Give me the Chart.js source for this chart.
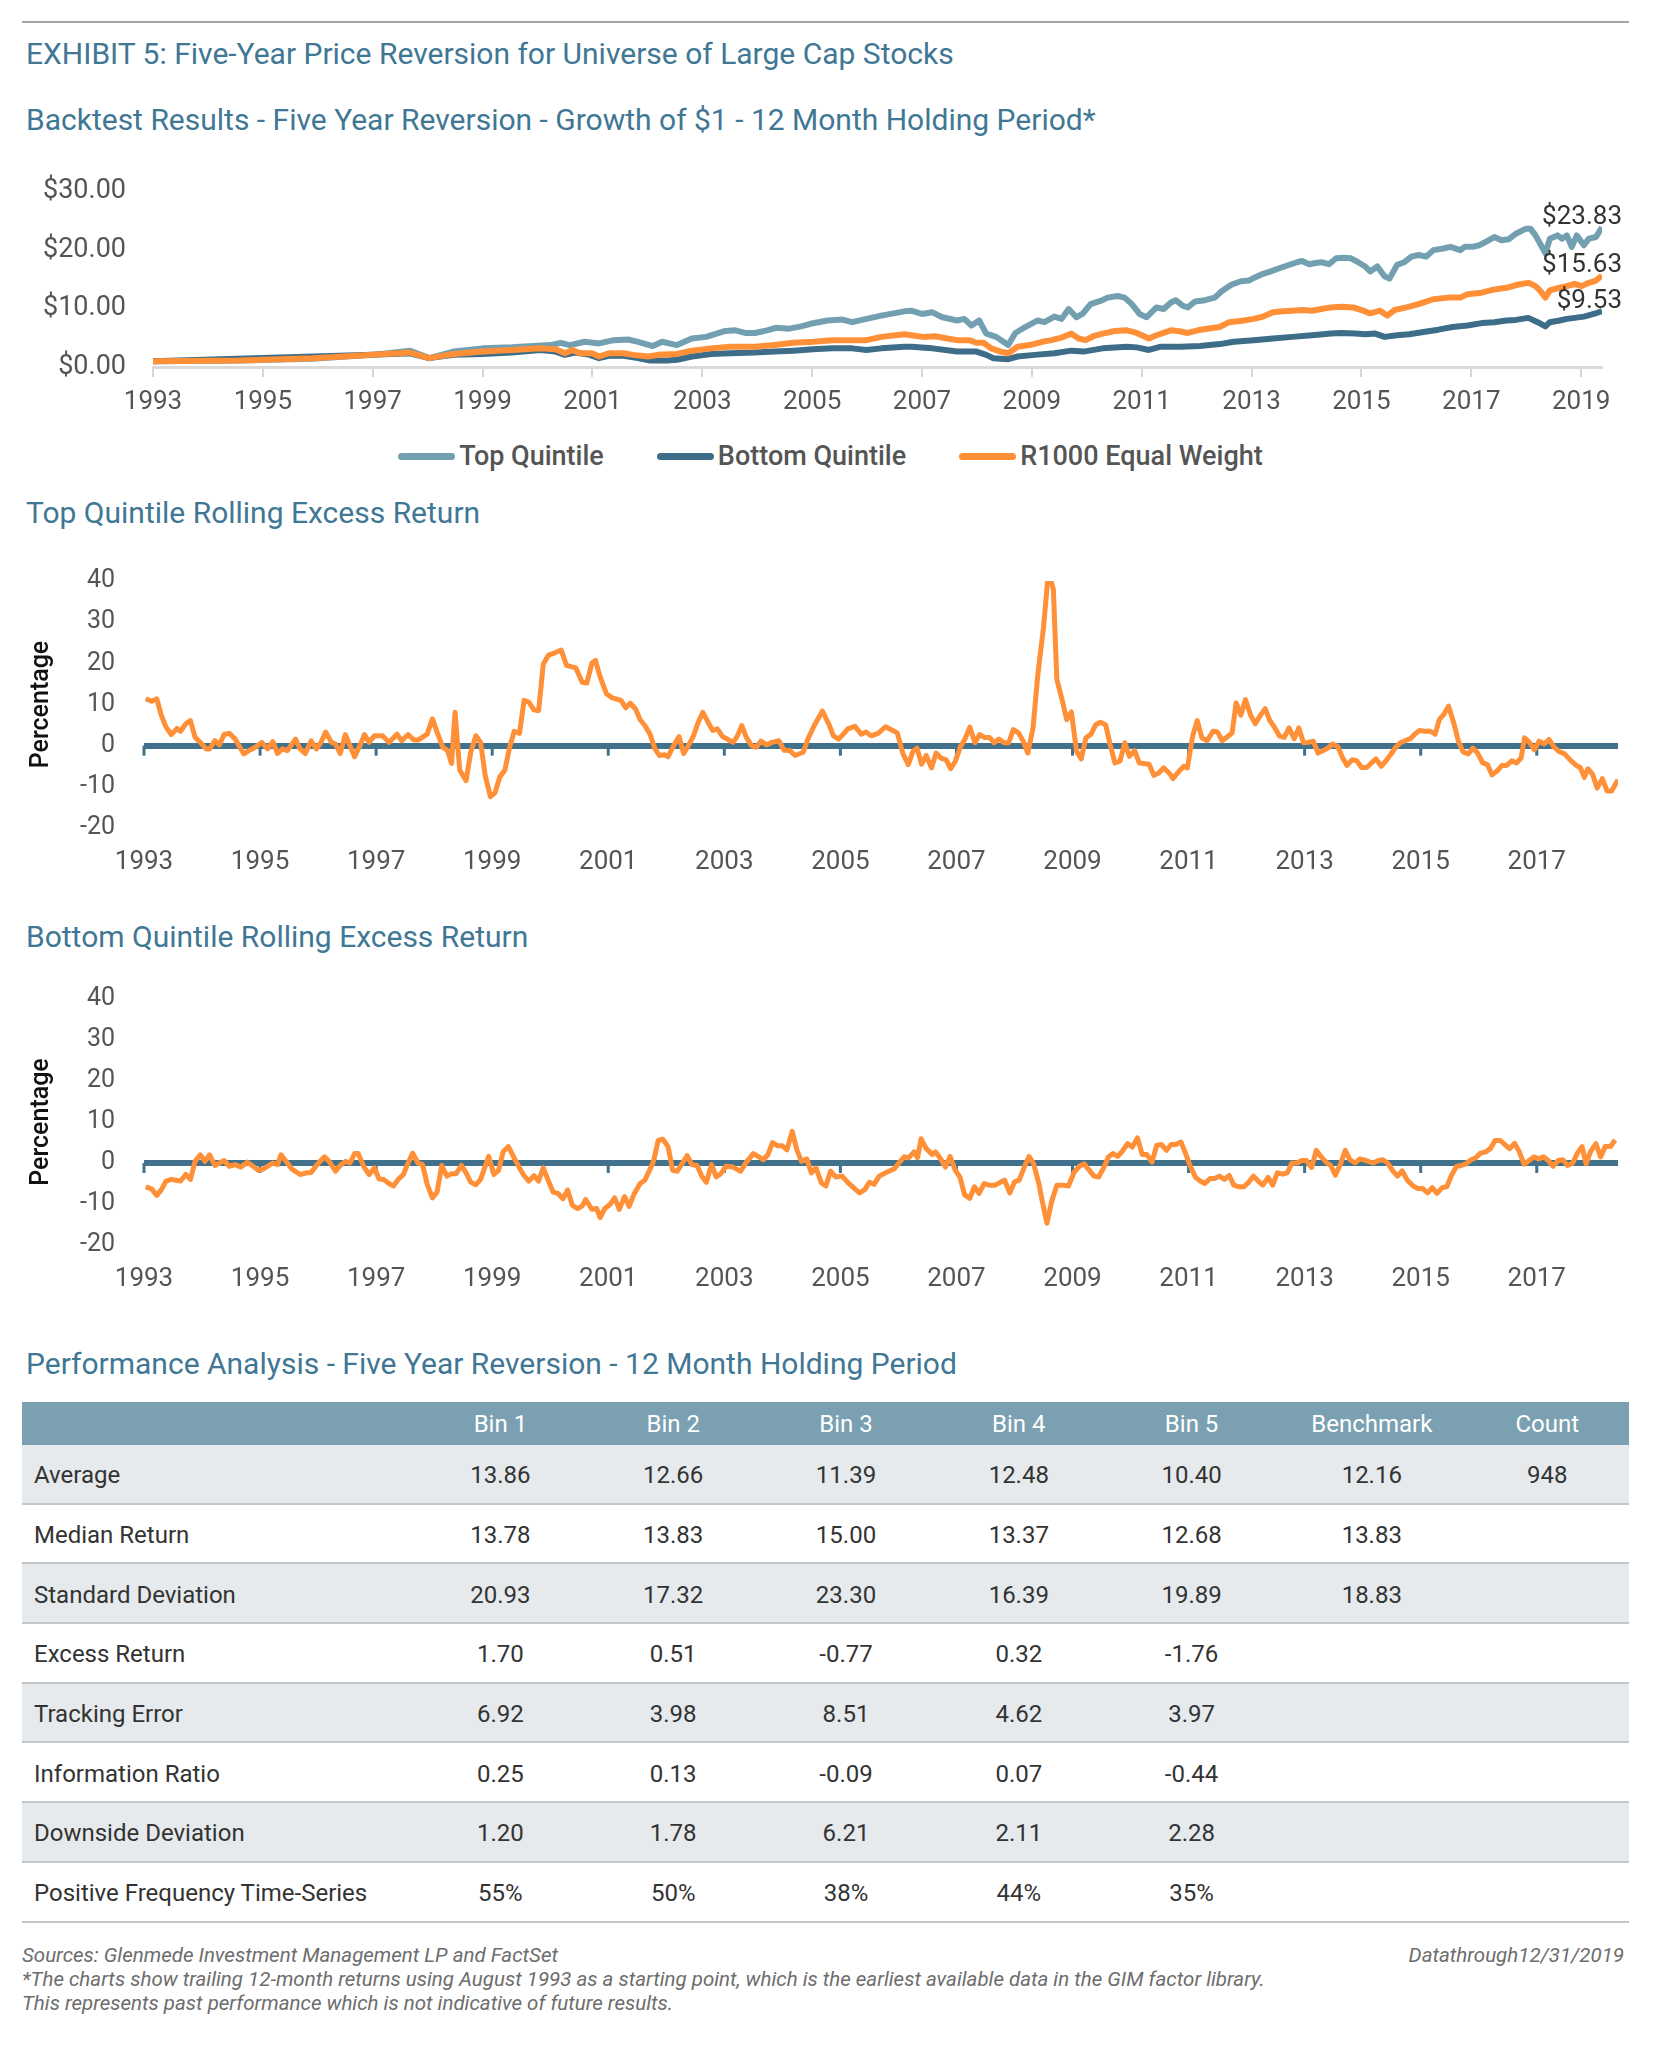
<!DOCTYPE html>
<html lang="en">
<head>
<meta charset="UTF-8">
<title>Five-Year Price Reversion</title>
<script src="https://cdn.jsdelivr.net/npm/chart.js"></script>
<style>
  body {margin:0;background:#fff;font-family:Roboto,'Open Sans',sans-serif;}
  .page {position:relative;width:1661px;height:2048px;overflow:hidden;}
  .rule {position:absolute;left:22px;top:21px;width:1607px;height:2px;background:#a3a7aa;}
  .ttl {position:absolute;left:26px;font-size:30px;line-height:36px;color:#3f7794;white-space:nowrap;}
  canvas {position:absolute;left:0;}
  .legend {position:absolute;left:0;top:438px;width:1661px;height:36px;display:flex;justify-content:center;align-items:center;gap:53px;}
  .legend .it {display:flex;align-items:center;gap:4px;font-size:27px;color:#555;font-weight:500;}
  .legend .sw {display:inline-block;width:57px;height:7px;border-radius:4px;}
  table.perf {position:absolute;left:22px;top:1402px;width:1607px;border-collapse:collapse;table-layout:fixed;font-size:24px;color:#333;}
  table.perf th {background:#7aa0b1;color:#fff;font-weight:400;height:43px;padding:0;text-align:center;}
  table.perf td {height:54.7px;padding:3px 0 0 0;text-align:center;border-bottom:2px solid #c3c7ca;}
  table.perf td.lbl {text-align:left;padding-left:12px;}
  table.perf tr.sh td {background:#e6eaec;}
  .foot {position:absolute;left:22px;top:1943px;font-size:20.5px;line-height:24px;font-style:italic;color:#6d6d6d;}
  .foot-r {position:absolute;right:37px;top:1943px;font-size:20.5px;line-height:24px;font-style:italic;color:#6d6d6d;}
</style>
</head>
<body>
<div class="page">
  <div class="rule"></div>
  <div class="ttl" style="top:36px">EXHIBIT 5: Five-Year Price Reversion for Universe of Large Cap Stocks</div>
  <div class="ttl" style="top:102px">Backtest Results - Five Year Reversion - Growth of $1 - 12 Month Holding Period*</div>
  <canvas id="growth" width="1661" height="281" style="top:148px"></canvas>
  <div class="legend" id="legend1"></div>
  <div class="ttl" style="top:495px">Top Quintile Rolling Excess Return</div>
  <canvas id="topEx" width="1661" height="363" style="top:537px"></canvas>
  <div class="ttl" style="top:919px">Bottom Quintile Rolling Excess Return</div>
  <canvas id="botEx" width="1661" height="363" style="top:955px"></canvas>
  <div class="ttl" style="top:1346px">Performance Analysis - Five Year Reversion - 12 Month Holding Period</div>
  <table class="perf" id="perf"></table>
  <div class="foot">Sources: Glenmede Investment Management LP and FactSet<br>*The charts show trailing 12-month returns using August 1993 as a starting point, which is the earliest available data in the GIM factor library.<br>This represents past performance which is not indicative of future results.</div>
  <div class="foot-r">Datathrough12/31/2019</div>
</div>

<script>
// growth of $1, [year, value]
const topGrowth = [[1993.00,1.00],[1994.58,1.12],[1995.90,1.40],[1997.00,2.07],[1997.67,2.79],[1998.03,1.51],[1998.47,2.63],[1999.00,3.18],[1999.53,3.35],[2000.24,3.74],[2000.42,4.13],[2000.59,3.74],[2000.86,4.30],[2001.12,4.02],[2001.39,4.58],[2001.65,4.69],[2001.83,4.30],[2002.10,3.58],[2002.27,4.30],[2002.54,3.74],[2002.81,4.86],[2003.07,5.14],[2003.42,6.15],[2003.60,6.26],[2003.78,5.81],[2003.96,5.81],[2004.18,6.26],[2004.35,6.70],[2004.58,6.54],[2004.80,6.93],[2004.97,7.37],[2005.28,7.93],[2005.55,8.10],[2005.73,7.65],[2005.99,8.21],[2006.26,8.77],[2006.68,9.50],
  [2006.80,9.61],[2007.00,9.05],[2007.19,9.33],[2007.37,8.49],[2007.64,7.93],[2007.77,8.21],[2007.90,7.09],[2008.04,7.93],[2008.17,5.70],[2008.35,5.14],[2008.57,3.74],[2008.70,5.81],[2008.88,6.82],[2009.10,7.93],[2009.23,7.65],[2009.41,8.60],[2009.54,8.21],[2009.67,9.89],[2009.81,8.49],[2009.92,9.05],[2010.07,10.73],[2010.25,11.28],[2010.38,11.84],[2010.56,12.12],[2010.69,11.84],[2010.82,10.73],[2010.96,9.05],[2011.09,8.49],[2011.27,10.17],[2011.40,9.89],[2011.53,11.01],[2011.62,11.40],[2011.75,10.45],[2011.84,10.17],[2011.97,11.17],[2012.15,11.40],[2012.33,11.84],[2012.46,12.96],[2012.64,14.08],[2012.81,14.64],[2012.95,14.75],[2013.04,15.20],[2013.17,15.75],[2013.35,16.31],[2013.48,16.76],[2013.65,17.32],[2013.83,17.88],[2013.92,18.10],[2014.05,17.54],[2014.14,17.71],[2014.27,17.88],[2014.41,17.54],[2014.54,18.55],[2014.67,18.66],[2014.81,18.55],[2014.94,17.88],[2015.07,17.15],[2015.16,16.31],[2015.29,17.15],[2015.42,15.47],[2015.51,15.08],[2015.65,17.43],[2015.78,17.88],[2015.91,18.83],[2016.04,19.11],[2016.18,18.83],[2016.31,19.94],[2016.49,20.22],[2016.62,20.50],[2016.80,19.94],[2016.88,20.50],[2017.02,20.50],[2017.15,20.78],[2017.28,21.45],[2017.42,22.18],[2017.55,21.62],[2017.68,21.79],[2017.81,22.74],[2017.99,23.58],[2018.08,23.58],[2018.17,22.46],[2018.27,20.78],[2018.35,19.39],[2018.43,21.90],[2018.57,22.46],[2018.65,21.90],[2018.74,22.46],[2018.83,20.50],[2018.92,22.46],[2019.05,20.78],[2019.14,21.90],[2019.27,22.18],[2019.38,23.83]];

const botGrowth = [[1993.00,1.00],[1997.00,2.07],[1997.67,2.35],[1998.03,1.51],[1998.47,2.07],[1999.00,2.23],[1999.53,2.46],[2000.06,2.91],[2000.33,2.63],[2000.50,2.07],[2000.68,2.46],[2000.95,2.07],[2001.12,1.51],[2001.30,1.90],[2001.57,1.90],[2001.83,1.51],[2002.05,1.12],[2002.36,1.12],[2002.54,1.23],[2002.81,1.79],[2003.16,2.23],[2003.51,2.35],[2003.96,2.46],[2004.31,2.63],[2004.66,2.79],[2005.02,3.02],[2005.37,3.18],[2005.73,3.18],[2005.99,2.91],[2006.26,3.18],[2006.68,3.46],
  [2006.80,3.46],[2007.19,3.18],[2007.64,2.63],[2007.99,2.63],[2008.17,2.07],[2008.30,1.51],[2008.57,1.34],[2008.74,1.79],[2009.05,2.07],[2009.41,2.35],[2009.72,2.79],[2009.94,2.63],[2010.29,3.18],[2010.73,3.46],[2010.91,3.35],[2011.13,2.91],[2011.35,3.46],[2011.71,3.46],[2012.06,3.58],[2012.42,3.91],[2012.68,4.30],[2013.04,4.58],[2013.39,4.86],[2013.74,5.14],[2014.10,5.42],[2014.45,5.70],[2014.63,5.81],[2014.89,5.70],[2015.07,5.59],[2015.25,5.70],[2015.42,5.14],[2015.65,5.42],[2015.87,5.59],[2016.13,5.98],[2016.40,6.37],[2016.66,6.82],[2016.93,7.09],[2017.19,7.49],[2017.42,7.65],[2017.64,7.93],[2017.81,8.04],[2018.04,8.38],[2018.21,7.65],[2018.35,6.93],[2018.43,7.65],[2018.61,7.93],[2018.74,8.21],[2018.88,8.38],[2019.05,8.60],[2019.23,9.05],[2019.38,9.53]];

const eqGrowth = [[1993.00,1.00],[1994.58,1.12],[1995.90,1.51],[1997.00,2.07],[1997.67,2.46],[1998.03,1.51],[1998.47,2.23],[1999.00,2.63],[1999.53,2.91],[2000.06,3.18],[2000.33,3.02],[2000.50,2.35],[2000.64,2.91],[2000.77,2.35],[2000.99,2.35],[2001.12,1.79],[2001.30,2.35],[2001.57,2.35],[2001.74,2.07],[2002.01,1.79],[2002.19,2.07],[2002.54,2.23],[2002.81,2.79],[2003.16,3.18],[2003.51,3.46],[2003.96,3.46],[2004.31,3.74],[2004.66,4.13],[2005.02,4.30],[2005.37,4.58],[2005.73,4.58],[2005.99,4.58],[2006.26,5.14],[2006.68,5.59],
  [2006.80,5.42],[2007.02,5.14],[2007.24,5.25],[2007.46,4.86],[2007.64,4.58],[2007.86,4.58],[2007.99,4.13],[2008.12,4.13],[2008.26,3.18],[2008.43,2.63],[2008.57,2.35],[2008.74,3.46],[2008.96,3.74],[2009.19,4.30],[2009.36,4.58],[2009.54,5.03],[2009.72,5.70],[2009.85,4.86],[2009.98,4.58],[2010.12,5.25],[2010.29,5.70],[2010.51,6.15],[2010.73,6.26],[2010.91,5.81],[2011.13,4.86],[2011.27,5.42],[2011.53,6.26],[2011.66,6.15],[2011.84,5.81],[2012.02,6.26],[2012.19,6.54],[2012.42,6.82],[2012.59,7.65],[2012.86,7.93],[2013.04,8.21],[2013.21,8.60],[2013.39,9.33],[2013.57,9.50],[2013.74,9.61],[2013.92,9.72],[2014.10,9.61],[2014.27,9.89],[2014.45,10.17],[2014.63,10.28],[2014.85,10.17],[2015.03,9.61],[2015.16,9.16],[2015.34,9.61],[2015.47,8.77],[2015.60,9.72],[2015.82,10.17],[2016.04,10.73],[2016.31,11.56],[2016.58,11.84],[2016.80,11.84],[2016.93,12.40],[2017.19,12.68],[2017.42,13.24],[2017.64,13.52],[2017.86,14.08],[2018.04,14.36],[2018.17,13.80],[2018.26,12.96],[2018.35,11.84],[2018.43,13.07],[2018.61,13.52],[2018.74,13.80],[2018.88,14.19],[2019.01,13.80],[2019.14,14.36],[2019.27,14.75],[2019.38,15.63]];

// rolling 12m excess return (%), [year, value]
const topExcess = [[1993.03,11.4],[1993.13,10.8],[1993.22,11.4],[1993.30,7.3],[1993.38,4.5],[1993.47,2.7],[1993.57,4.2],[1993.63,3.5],[1993.72,5.3],[1993.80,6.1],[1993.88,2.0],[1993.97,0.8],[1994.07,-0.8],[1994.13,-0.8],[1994.22,1.2],[1994.30,0.2],[1994.38,2.7],[1994.47,3.0],[1994.57,1.6],[1994.72,-2.0],[1994.82,-1.1],[1994.92,-0.4],[1995.03,0.8],[1995.13,-0.8],[1995.22,1.0],[1995.30,-1.9],[1995.38,-0.8],[1995.47,-1.2],[1995.61,1.6],[1995.69,-0.8],[1995.78,-1.9],[1995.88,1.2],[1995.97,-0.8],[1996.05,0.8],[1996.13,3.3],[1996.23,0.8],[1996.30,0.4],[1996.38,-1.9],[1996.47,2.7],[1996.55,0.0],[1996.63,-2.7],[1996.72,0.0],[1996.80,2.7],[1996.88,0.8],[1996.97,2.4],[1997.11,2.4],[1997.22,0.8],[1997.36,2.8],[1997.44,1.2],[1997.55,2.7],[1997.65,1.4],[1997.73,1.4],[1997.88,2.8],[1997.97,6.5],[1998.05,3.3],[1998.15,-0.4],[1998.23,-1.2],[1998.30,-4.3],[1998.36,8.1],[1998.44,-5.9],[1998.55,-8.5],[1998.63,-1.6],[1998.72,2.4],[1998.80,0.8],[1998.88,-7.3],[1998.97,-12.4],[1999.05,-11.4],[1999.13,-7.6],[1999.22,-5.9],[1999.30,-0.4],[1999.38,3.5],[1999.47,3.0],[1999.55,11.0],[1999.63,10.6],[1999.72,8.7],[1999.80,8.5],[1999.88,19.8],[1999.97,22.0],[2000.07,22.5],[2000.19,23.2],[2000.28,19.5],[2000.44,18.9],[2000.55,15.4],[2000.63,15.2],[2000.72,20.1],[2000.78,20.7],[2000.86,16.7],[2000.97,12.6],[2001.07,11.6],[2001.22,11.0],[2001.30,9.2],[2001.38,10.3],[2001.47,8.9],[2001.55,6.3],[2001.63,4.9],[2001.72,2.8],[2001.80,-0.6],[2001.88,-2.4],[2001.97,-2.2],[2002.03,-2.7],[2002.11,-0.4],[2002.22,2.2],[2002.30,-1.9],[2002.38,0.0],[2002.47,2.4],[2002.55,5.7],[2002.63,8.1],[2002.72,5.7],[2002.80,3.7],[2002.88,4.1],[2002.97,2.2],[2003.05,1.6],[2003.15,0.8],[2003.22,2.2],[2003.30,4.9],[2003.38,2.0],[2003.47,0.0],[2003.55,-0.4],[2003.63,1.1],[2003.73,0.2],[2003.82,0.8],[2003.94,1.2],[2004.03,-1.1],[2004.13,-1.2],[2004.22,-2.4],[2004.36,-1.6],[2004.44,1.6],[2004.55,4.9],[2004.69,8.4],[2004.80,5.3],[2004.88,2.4],[2004.97,1.6],[2005.05,2.8],[2005.13,4.1],[2005.25,4.7],[2005.36,2.8],[2005.44,3.3],[2005.53,2.4],[2005.65,3.0],[2005.78,4.6],
  [2005.98,3.1],[2006.08,-2.0],[2006.17,-4.6],[2006.25,-1.4],[2006.32,-0.6],[2006.40,-4.5],[2006.48,-2.4],[2006.57,-5.4],[2006.65,-1.8],[2006.73,-3.0],[2006.82,-3.4],[2006.90,-5.6],[2006.98,-3.8],[2007.07,-0.2],[2007.15,1.7],[2007.23,4.5],[2007.32,0.7],[2007.40,2.7],[2007.48,2.0],[2007.57,2.0],[2007.65,0.7],[2007.73,1.6],[2007.82,0.7],[2007.90,0.7],[2007.98,3.9],[2008.07,3.1],[2008.15,1.1],[2008.23,-1.8],[2008.32,4.3],[2008.40,16.9],[2008.50,28.7],[2008.57,39.9],[2008.63,39.9],[2008.67,38.0],[2008.73,16.1],[2008.82,11.2],[2008.90,6.3],[2008.98,8.2],[2009.07,-1.4],[2009.15,-3.2],[2009.23,1.9],[2009.32,2.8],[2009.40,5.1],[2009.48,5.7],[2009.57,5.1],[2009.65,0.2],[2009.73,-4.2],[2009.82,-3.7],[2009.90,0.7],[2009.98,-2.6],[2010.07,-1.2],[2010.15,-4.2],[2010.32,-4.5],[2010.40,-7.2],[2010.48,-6.7],[2010.57,-5.4],[2010.67,-6.7],[2010.73,-8.0],[2010.83,-6.3],[2010.92,-5.0],[2010.98,-5.4],[2011.07,2.3],[2011.15,6.1],[2011.23,1.9],[2011.32,1.2],[2011.42,3.5],[2011.50,3.3],[2011.58,1.2],[2011.68,2.3],[2011.75,3.1],[2011.82,10.4],[2011.90,7.4],[2011.98,11.2],[2012.07,7.4],[2012.15,5.3],[2012.23,7.2],[2012.32,9.0],[2012.40,6.1],[2012.48,4.5],[2012.57,2.3],[2012.65,2.0],[2012.73,4.3],[2012.82,1.7],[2012.90,4.3],[2012.98,0.7],[2013.07,0.8],[2013.15,1.1],[2013.23,-1.8],[2013.32,-1.2],[2013.40,-0.6],[2013.48,0.4],[2013.57,-0.2],[2013.65,-2.8],[2013.73,-4.8],[2013.82,-3.4],[2013.90,-3.7],[2013.98,-5.3],[2014.07,-5.3],[2014.15,-4.2],[2014.23,-3.2],[2014.32,-5.0],[2014.40,-3.7],[2014.48,-2.2],[2014.57,-0.4],[2014.65,0.7],[2014.73,1.2],[2014.82,1.7],[2014.90,2.8],[2014.98,3.7],[2015.07,3.5],[2015.17,3.5],[2015.25,2.8],[2015.32,6.3],[2015.40,7.6],[2015.48,9.6],[2015.57,5.5],[2015.65,1.1],[2015.73,-1.5],[2015.82,-2.0],[2015.90,-0.6],[2015.98,-1.8],[2016.07,-4.2],[2016.15,-4.6],[2016.23,-7.1],[2016.32,-6.1],[2016.40,-4.8],[2016.48,-4.8],[2016.57,-3.7],[2016.65,-4.2],[2016.73,-3.0],[2016.79,1.9],[2016.88,0.7],[2016.96,-1.0],[2017.04,1.1],[2017.13,0.4],[2017.21,1.5],[2017.29,-0.2],[2017.38,-1.4],[2017.48,-2.0],[2017.57,-3.4],[2017.68,-4.8],[2017.75,-5.3],[2017.82,-7.7],[2017.88,-5.6],[2017.96,-6.9],[2018.04,-10.3],[2018.13,-8.0],[2018.21,-11.0],[2018.29,-11.0],[2018.40,-8.3]];

const botExcess = [[1993.03,-5.8],[1993.13,-6.3],[1993.22,-7.9],[1993.30,-6.5],[1993.38,-4.4],[1993.47,-4.0],[1993.55,-4.2],[1993.63,-4.4],[1993.72,-2.8],[1993.80,-4.0],[1993.88,0.4],[1993.97,2.0],[1994.05,0.4],[1994.13,2.0],[1994.22,-0.6],[1994.30,0.0],[1994.38,0.6],[1994.47,-0.8],[1994.57,-0.4],[1994.67,-1.0],[1994.78,0.2],[1994.88,-0.8],[1994.97,-1.8],[1995.05,-1.5],[1995.13,-0.8],[1995.22,0.0],[1995.30,-0.4],[1995.36,2.0],[1995.47,0.0],[1995.55,-1.5],[1995.69,-2.8],[1995.80,-2.4],[1995.88,-2.3],[1995.98,-0.4],[1996.11,1.5],[1996.19,0.4],[1996.30,-2.0],[1996.38,-0.6],[1996.47,0.4],[1996.55,0.0],[1996.63,2.3],[1996.69,2.3],[1996.80,-1.2],[1996.88,-2.8],[1996.97,-1.2],[1997.05,-3.9],[1997.13,-4.0],[1997.22,-5.0],[1997.30,-5.6],[1997.38,-4.0],[1997.47,-2.8],[1997.55,0.0],[1997.63,2.4],[1997.72,0.0],[1997.80,-0.4],[1997.88,-5.2],[1997.97,-8.5],[1998.05,-7.1],[1998.13,-0.6],[1998.22,-3.2],[1998.30,-2.6],[1998.38,-2.6],[1998.47,-0.6],[1998.55,-2.4],[1998.63,-4.7],[1998.72,-5.3],[1998.80,-4.0],[1998.94,1.6],[1999.03,-2.8],[1999.11,-1.8],[1999.19,2.8],[1999.28,4.0],[1999.38,1.2],[1999.47,-1.2],[1999.55,-3.1],[1999.63,-4.4],[1999.72,-3.1],[1999.80,-4.4],[1999.88,-1.2],[1999.97,-4.4],[2000.05,-7.1],[2000.13,-7.4],[2000.22,-8.7],[2000.30,-6.6],[2000.38,-10.3],[2000.47,-11.1],[2000.55,-10.5],[2000.61,-8.9],[2000.72,-11.3],[2000.80,-11.1],[2000.86,-13.3],[2000.94,-11.1],[2001.03,-10.1],[2001.11,-8.5],[2001.19,-11.3],[2001.28,-8.2],[2001.36,-10.6],[2001.44,-7.7],[2001.55,-5.0],[2001.63,-4.2],[2001.72,-1.5],[2001.78,0.4],[2001.86,5.5],[2001.94,5.8],[2002.03,4.0],[2002.11,-1.8],[2002.19,-2.0],[2002.28,0.0],[2002.36,1.8],[2002.44,-0.4],[2002.53,-0.6],[2002.61,-3.2],[2002.69,-4.7],[2002.78,-0.4],[2002.86,-3.4],[2002.94,-2.6],[2003.03,-0.8],[2003.15,-1.0],[2003.28,-2.0],[2003.38,0.2],[2003.50,2.3],[2003.58,1.6],[2003.67,0.8],[2003.75,2.0],[2003.83,5.0],[2003.92,4.2],[2004.00,4.2],[2004.08,3.2],[2004.17,7.7],[2004.25,3.2],[2004.33,0.4],[2004.42,1.0],[2004.50,-2.4],[2004.58,-1.2],[2004.67,-4.8],[2004.75,-5.6],[2004.83,-2.0],[2004.92,-3.4],[2005.03,-3.2],[2005.13,-4.8],[2005.25,-6.3],[2005.33,-7.3],[2005.42,-6.5],[2005.50,-4.7],[2005.58,-5.2],[2005.67,-3.2],[2005.78,-2.4],
  [2005.93,-1.4],[2006.02,0.2],[2006.10,1.5],[2006.18,1.3],[2006.27,2.7],[2006.33,1.3],[2006.39,5.9],[2006.48,3.5],[2006.58,2.1],[2006.64,2.7],[2006.73,1.0],[2006.81,-1.0],[2006.89,1.6],[2006.98,-1.8],[2007.06,-3.4],[2007.14,-7.8],[2007.23,-8.6],[2007.31,-5.8],[2007.39,-7.4],[2007.48,-5.0],[2007.56,-5.4],[2007.67,-5.4],[2007.77,-4.6],[2007.83,-4.2],[2007.92,-7.3],[2008.00,-4.6],[2008.08,-4.2],[2008.17,-1.0],[2008.25,1.6],[2008.33,-0.2],[2008.42,-5.0],[2008.48,-9.4],[2008.56,-14.7],[2008.64,-9.4],[2008.73,-5.4],[2008.83,-5.4],[2008.93,-5.6],[2009.03,-2.2],[2009.12,-0.8],[2009.20,-0.2],[2009.28,-1.6],[2009.37,-3.2],[2009.45,-3.4],[2009.53,-1.4],[2009.62,1.5],[2009.70,2.3],[2009.78,1.6],[2009.87,3.1],[2009.95,4.7],[2010.03,3.9],[2010.12,6.1],[2010.20,2.1],[2010.28,2.1],[2010.37,0.2],[2010.45,4.3],[2010.53,4.5],[2010.62,3.1],[2010.70,4.5],[2010.78,4.5],[2010.87,5.1],[2010.95,2.3],[2011.03,-0.8],[2011.12,-3.5],[2011.20,-4.4],[2011.28,-5.0],[2011.37,-3.8],[2011.45,-3.8],[2011.53,-3.2],[2011.62,-4.0],[2011.70,-3.0],[2011.78,-5.4],[2011.87,-5.8],[2011.95,-5.8],[2012.03,-4.8],[2012.12,-3.2],[2012.20,-4.4],[2012.28,-5.4],[2012.37,-3.5],[2012.45,-5.4],[2012.53,-2.4],[2012.62,-2.7],[2012.70,-2.4],[2012.78,0.0],[2012.87,0.0],[2012.95,0.6],[2013.03,0.6],[2013.12,-1.1],[2013.20,3.1],[2013.28,1.6],[2013.37,0.2],[2013.45,-0.6],[2013.53,-3.0],[2013.62,-0.2],[2013.70,3.1],[2013.78,0.8],[2013.87,0.0],[2013.95,1.0],[2014.06,0.6],[2014.18,0.0],[2014.27,0.6],[2014.35,0.8],[2014.43,0.0],[2014.52,-1.9],[2014.60,-3.2],[2014.68,-1.9],[2014.77,-4.2],[2014.87,-5.6],[2014.95,-6.2],[2015.03,-6.2],[2015.12,-7.3],[2015.20,-6.0],[2015.28,-7.4],[2015.37,-6.0],[2015.45,-5.8],[2015.53,-3.0],[2015.62,-0.8],[2015.70,-0.6],[2015.78,-0.2],[2015.87,0.8],[2015.95,1.3],[2016.03,2.4],[2016.12,2.7],[2016.20,3.5],[2016.28,5.5],[2016.37,5.5],[2016.45,4.5],[2016.53,3.5],[2016.62,4.8],[2016.70,2.7],[2016.78,-0.3],[2016.87,0.6],[2016.95,1.5],[2017.03,1.0],[2017.12,1.5],[2017.20,0.6],[2017.28,-0.8],[2017.37,0.6],[2017.45,0.8],[2017.53,-0.6],[2017.62,0.0],[2017.70,2.4],[2017.78,4.0],[2017.85,-0.2],[2017.93,2.9],[2018.02,4.7],[2018.10,1.5],[2018.18,4.0],[2018.27,4.0],[2018.35,5.6]];

const growthYears = [1993,1995,1997,1999,2001,2003,2005,2007,2009,2011,2013,2015,2017,2019];
const excessYears = [1993,1995,1997,1999,2001,2003,2005,2007,2009,2011,2013,2015,2017];
const seriesNames = ['Top Quintile','Bottom Quintile','R1000 Equal Weight'];

const tableCols = ['', 'Bin 1', 'Bin 2', 'Bin 3', 'Bin 4', 'Bin 5', 'Benchmark', 'Count'];
const tableRows = [
  ['Average', '13.86','12.66','11.39','12.48','10.40','12.16','948'],
  ['Median Return', '13.78','13.83','15.00','13.37','12.68','13.83',''],
  ['Standard Deviation', '20.93','17.32','23.30','16.39','19.89','18.83',''],
  ['Excess Return', '1.70','0.51','-0.77','0.32','-1.76','',''],
  ['Tracking Error', '6.92','3.98','8.51','4.62','3.97','',''],
  ['Information Ratio', '0.25','0.13','-0.09','0.07','-0.44','',''],
  ['Downside Deviation', '1.20','1.78','6.21','2.11','2.28','',''],
  ['Positive Frequency Time-Series', '55%','50%','38%','44%','35%','','']
];

const colTop = '#73a0b1', colBot = '#3d6d88', colEq = '#ff9038';

function pts(arr){ return arr.map(p => ({x:p[0], y:p[1]})); }

// legend
const leg = document.getElementById('legend1');
[colTop, colBot, colEq].forEach((c,i)=>{
  leg.innerHTML += `<span class="it"><span class="sw" style="background:${c}"></span>${seriesNames[i]}</span>`;
});

// table
let html = '<colgroup><col style="width:392px">' + '<col style="width:172.8px">'.repeat(5) + '<col style="width:187.6px"><col style="width:163.4px"></colgroup>';
html += '<tr>' + tableCols.map(c=>`<th>${c}</th>`).join('') + '</tr>';
tableRows.forEach((r,i)=>{
  html += `<tr class="${i%2==0?'sh':''}">` + r.map((c,j)=>`<td class="${j==0?'lbl':''}">${c}</td>`).join('') + '</tr>';
});
document.getElementById('perf').innerHTML = html;

// value labels at end of growth lines
const endLabels = {
  id:'endLabels',
  afterDatasetsDraw(chart){
    const ctx = chart.ctx;
    ctx.save();
    ctx.font = '26px Roboto';
    ctx.fillStyle = '#333';
    ctx.textAlign = 'right';
    ctx.textBaseline = 'middle';
    chart.data.datasets.forEach((ds,i)=>{
      const meta = chart.getDatasetMeta(i);
      const pt = meta.data[meta.data.length-1];
      const v = ds.data[ds.data.length-1].y;
      ctx.fillText('$' + v.toFixed(2), pt.x + 20, pt.y - 10);
    });
    ctx.restore();
  }
};

// small tick marks hanging off the zero line
const zeroTicks = {
  id:'zeroTicks',
  beforeDatasetsDraw(chart){
    const ctx = chart.ctx, xs = chart.scales.x, y0 = chart.scales.y.getPixelForValue(0);
    ctx.save();
    ctx.strokeStyle = '#41718b';
    ctx.lineWidth = 3;
    xs.ticks.forEach(t=>{
      const x = xs.getPixelForValue(t.value);
      ctx.beginPath(); ctx.moveTo(x, y0); ctx.lineTo(x, y0 + 10); ctx.stroke();
    });
    ctx.restore();
  }
};

new Chart(document.getElementById('growth'), {
  type:'line',
  data:{datasets:[
    {label:seriesNames[0], data:pts(topGrowth), borderColor:colTop, order:2},
    {label:seriesNames[1], data:pts(botGrowth), borderColor:colBot, order:1},
    {label:seriesNames[2], data:pts(eqGrowth), borderColor:colEq, order:0}
  ]},
  options:{
    responsive:false, animation:false,
    layout:{padding:{top:0, right:59, left:0, bottom:0}},
    elements:{line:{borderWidth:6, tension:0, borderJoinStyle:'round'}, point:{radius:0}},
    plugins:{legend:{display:false}, tooltip:{enabled:false}},
    scales:{
      x:{type:'linear', min:1993, max:2019.38,
        afterBuildTicks:s=>{ s.ticks = growthYears.map(v=>({value:v})); },
        afterFit:s=>{ s.height = 62; },
        ticks:{callback:v=>String(v), font:{family:'Roboto', size:26}, color:'#555', padding:10, maxRotation:0, autoSkip:false},
        grid:{drawOnChartArea:false, drawTicks:true, tickLength:10, color:'#d6d6d6', lineWidth:2},
        border:{color:'#dadada', width:3}
      },
      y:{min:0, max:30,
        afterFit:s=>{ s.width = 153; },
        ticks:{stepSize:10, callback:v=>'$' + v.toFixed(2), font:{family:'Roboto', size:27}, color:'#555', padding:27},
        grid:{display:false, drawTicks:false},
        border:{display:false}
      }
    }
  },
  plugins:[endLabels]
});

function excessChart(id, series, xHeight){
  return new Chart(document.getElementById(id), {
    type:'line',
    data:{datasets:[{data:pts(series), borderColor:colEq, borderWidth:5}]},
    options:{
      responsive:false, animation:false,
      layout:{padding:{top:0, right:43, left:0, bottom:0}},
      elements:{line:{tension:0, borderJoinStyle:'round'}, point:{radius:0}},
      plugins:{legend:{display:false}, tooltip:{enabled:false}},
      scales:{
        x:{type:'linear', min:1993, max:2018.4,
          afterBuildTicks:s=>{ s.ticks = excessYears.map(v=>({value:v})); },
          afterFit:s=>{ s.height = xHeight; },
          ticks:{callback:v=>String(v), font:{family:'Roboto', size:26}, color:'#555', padding:19, maxRotation:0, autoSkip:false},
          grid:{display:false, drawTicks:false},
          border:{display:false}
        },
        y:{min:-20, max:40,
          afterFit:s=>{ s.width = 144; },
          ticks:{stepSize:10, font:{family:'Roboto', size:25}, color:'#555', padding:29},
          grid:{drawTicks:false,
            color:c=>c.tick && c.tick.value === 0 ? '#41718b' : 'rgba(0,0,0,0)',
            lineWidth:c=>c.tick && c.tick.value === 0 ? 6 : 1},
          border:{display:false},
          title:{display:true, text:'Percentage', font:{family:'Roboto', size:25, weight:'500'}, color:'#111', padding:{top:27, bottom:0}}
        }
      }
    },
    plugins:[zeroTicks]
  });
}
excessChart('topEx', topExcess, 72);
excessChart('botEx', botExcess, 73);
</script>
</body>
</html>
